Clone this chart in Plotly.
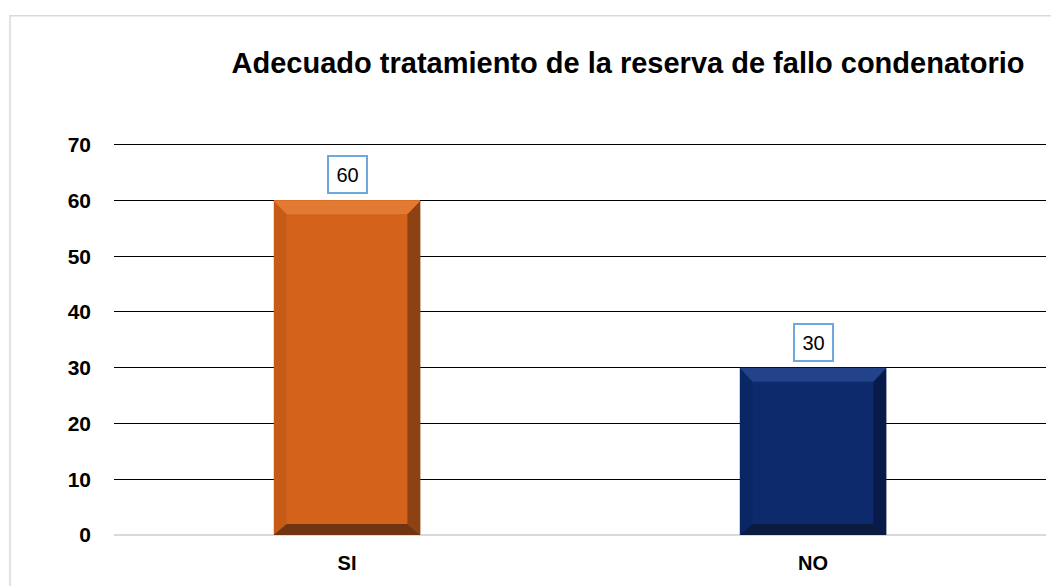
import plotly.graph_objects as go

categories = ["SI", "NO"]
values = [60, 30]
bar_colors = ["#D4621A", "#0C2A6C"]
bevel_top = ["#E37A33", "#22428A"]
bevel_left = ["#B85514", "#0A2560"]
bevel_right = ["#8C4212", "#071A4A"]
bevel_bottom = ["#6F3410", "#0B1B40"]
title_text = "Adecuado tratamiento de la reserva de fallo condenatorio"
y_ticks = [0, 10, 20, 30, 40, 50, 60, 70]

# page body has an 8px margin, so the figure is sized to fit the window
OFF = 8
W, H = 1059 - OFF, 586 - OFF
L, R, T, B = 106, 13, 135, 49
y_max = 70.3
plot_w = W - L - R
plot_h = H - T - B
bar_w = 0.315
px_x = plot_w / 2.0
px_y = plot_h / y_max
bx = 13 / px_x
by_top = 14 / px_y
by_bot = 11 / px_y

xs = list(range(len(categories)))

fig = go.Figure()
fig.add_trace(go.Bar(
    x=xs, y=values, width=bar_w,
    marker=dict(color=bar_colors, line=dict(width=0)),
    hoverinfo="skip",
))

shapes = []
for i, v in zip(xs, values):
    x0, x1 = i - bar_w / 2, i + bar_w / 2
    shapes.append(dict(type="path", xref="x", yref="y", layer="above", line=dict(width=0),
        fillcolor=bevel_left[i], opacity=0.55,
        path=f"M {x0} 0 L {x0} {v} L {x0+bx} {v-by_top} L {x0+bx} {by_bot} Z"))
    shapes.append(dict(type="path", xref="x", yref="y", layer="above", line=dict(width=0),
        fillcolor=bevel_right[i],
        path=f"M {x1} 0 L {x1} {v} L {x1-bx} {v-by_top} L {x1-bx} {by_bot} Z"))
    shapes.append(dict(type="path", xref="x", yref="y", layer="above", line=dict(width=0),
        fillcolor=bevel_top[i],
        path=f"M {x0} {v} L {x1} {v} L {x1-bx} {v-by_top} L {x0+bx} {v-by_top} Z"))
    shapes.append(dict(type="path", xref="x", yref="y", layer="above", line=dict(width=0),
        fillcolor=bevel_bottom[i],
        path=f"M {x0} 0 L {x1} 0 L {x1-bx} {by_bot} L {x0+bx} {by_bot} Z"))

# chart border (light gray frame, open to the right/bottom of the window)
shapes.append(dict(type="rect", xref="paper", yref="paper", layer="below",
    x0=(2 - L) / plot_w, x1=(W + 20 - L) / plot_w,
    y0=-(B + 20) / plot_h, y1=(H - B - 7) / plot_h,
    line=dict(color="#D9D9D9", width=1.5), fillcolor="rgba(0,0,0,0)"))

annotations = []
for i, v in zip(xs, values):
    annotations.append(dict(
        x=i, y=v, xref="x", yref="y", text=str(v), showarrow=False,
        yanchor="bottom", yshift=6,
        font=dict(family="Liberation Sans, Arial", size=20, color="#000000"),
        bordercolor="#6FA8DC", borderwidth=2, borderpad=4, bgcolor="#FFFFFF",
        width=29, height=27,
    ))

fig.update_layout(
    width=W, height=H,
    margin=dict(l=L, r=R, t=T, b=B, pad=0),
    paper_bgcolor="#FFFFFF", plot_bgcolor="#FFFFFF",
    showlegend=False,
    bargap=0,
    title=dict(text=f"<b>{title_text}</b>", x=(628 - OFF) / W, xanchor="center",
               y=1 - (63 - OFF) / H, yanchor="middle", yref="container",
               font=dict(family="Liberation Sans, Arial", size=29, color="#000000")),
    xaxis=dict(range=[-0.5, 1.5], tickvals=xs, ticktext=[f"<b>{c}</b>" for c in categories],
               showgrid=False, zeroline=False, showline=False, ticks="",
               ticklabelstandoff=14,
               tickfont=dict(family="Liberation Sans, Arial", size=20, color="#000000")),
    yaxis=dict(range=[0, y_max], tickvals=y_ticks, ticktext=[f"<b>{t}</b>" for t in y_ticks],
               showgrid=True, gridcolor="#000000", gridwidth=1,
               zeroline=True, zerolinecolor="#D9D9D9", zerolinewidth=2,
               showline=False, ticks="", ticklabelstandoff=22,
               tickfont=dict(family="Liberation Sans, Arial", size=21, color="#000000")),
    shapes=shapes,
    annotations=annotations,
)

fig.write_html("out.html")
